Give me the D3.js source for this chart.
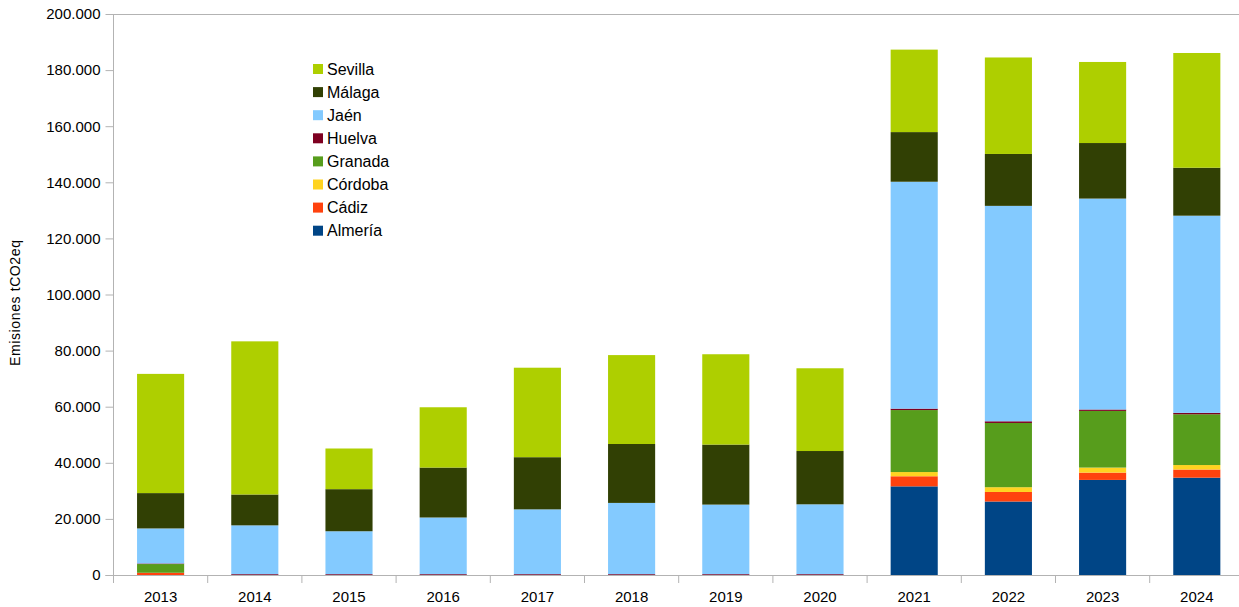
<!DOCTYPE html>
<html>
<head>
<meta charset="utf-8">
<script src="https://cdn.jsdelivr.net/npm/d3@7"></script>
<style>
  body { margin: 0; background: #fff; }
  svg { display: block; font-family: "Liberation Sans", Arial, sans-serif; }
  .axis path, .axis line { stroke: #b3b3b3; }
  .axis text { fill: #000; font-size: 15px; }
</style>
</head>
<body>
<div id="chart"></div>
<script>
// years on the x axis
var years = ['2013','2014','2015','2016','2017','2018','2019','2020','2021','2022','2023','2024'];

// stack order, bottom to top
var provinces = ['Almería','Cádiz','Córdoba','Granada','Huelva','Jaén','Málaga','Sevilla'];

// tCO2eq per province, one value per year
var almeria = [0, 0, 0, 0, 0, 0, 0, 0, 31600, 26200, 33900, 34700];
var cadiz   = [800, 0, 0, 0, 0, 0, 0, 0, 3600, 3400, 2600, 2900];
var cordoba = [0, 0, 0, 0, 0, 0, 0, 0, 1500, 1700, 1800, 1600];
var granada = [3100, 0, 0, 0, 0, 0, 0, 0, 22100, 22900, 20200, 18100];
var huelva  = [200, 300, 300, 300, 300, 300, 300, 300, 500, 600, 500, 500];
var jaen    = [12500, 17400, 15300, 20200, 23100, 25400, 24800, 24900, 80900, 76800, 75200, 70300];
var malaga  = [12600, 11000, 15000, 17800, 18600, 21000, 21400, 19000, 17700, 18500, 19800, 17100];
var sevilla = [42500, 54600, 14500, 21500, 31900, 31700, 32200, 29500, 29400, 34400, 28900, 40900];

var yTicks = [0, 20000, 40000, 60000, 80000, 100000, 120000, 140000, 160000, 180000, 200000];

var seriesValues = [almeria, cadiz, cordoba, granada, huelva, jaen, malaga, sevilla];
var colors = ['#004586','#ff420e','#ffd320','#579d1c','#7e0021','#83caff','#314004','#aecf00'];

var width = 1239, height = 607;
var plotLeft = 113.5, plotTop = 14, plotBottom = 575;
var step = 94.2;

var rows = years.map(function(y, i) {
  var r = { year: y };
  provinces.forEach(function(p, j) { r[p] = seriesValues[j][i]; });
  return r;
});

var svg = d3.select('#chart').append('svg')
    .attr('width', width)
    .attr('height', height);

var x = d3.scaleBand()
    .domain(years)
    .range([plotLeft, plotLeft + step * years.length])
    .paddingInner(0.5)
    .paddingOuter(0.25);

var y = d3.scaleLinear()
    .domain([0, 200000])
    .range([plotBottom, plotTop]);

var es = d3.formatLocale({ decimal: ',', thousands: '.', grouping: [3], currency: ['', '€'] });
var fmt = es.format(',d');

// top border line of plot area
svg.append('line')
    .attr('x1', plotLeft).attr('x2', width)
    .attr('y1', y(200000) + 0.5).attr('y2', y(200000) + 0.5)
    .attr('stroke', '#b3b3b3');

var stack = d3.stack().keys(provinces)(rows);

svg.append('g').selectAll('g')
  .data(stack)
  .join('g')
    .attr('fill', function(d, i) { return colors[i]; })
  .selectAll('rect')
  .data(function(d) { return d; })
  .join('rect')
    .attr('x', function(d) { return x(d.data.year); })
    .attr('width', x.bandwidth())
    .attr('y', function(d) { return y(d[1]); })
    .attr('height', function(d) { return y(d[0]) - y(d[1]); });

// y axis
var yAxis = svg.append('g')
    .attr('class', 'axis')
    .attr('transform', `translate(${plotLeft},0)`)
    .call(d3.axisLeft(y).tickValues(yTicks).tickFormat(fmt).tickSize(8).tickPadding(5));
yAxis.select('.domain').remove();
yAxis.append('line')
    .attr('x1', 0).attr('x2', 0)
    .attr('y1', y(200000)).attr('y2', y(0) + 8)
    .attr('stroke', '#b3b3b3');

// x axis: ticks between categories, labels centered
var xAxis = svg.append('g').attr('class', 'axis');
xAxis.append('line')
    .attr('x1', plotLeft - 8).attr('x2', width)
    .attr('y1', plotBottom + 0.5).attr('y2', plotBottom + 0.5)
    .attr('stroke', '#b3b3b3');
xAxis.selectAll('line.tick')
  .data(d3.range(1, years.length + 1))
  .join('line')
    .attr('class', 'tick')
    .attr('x1', function(i) { return plotLeft + i * step; })
    .attr('x2', function(i) { return plotLeft + i * step; })
    .attr('y1', plotBottom).attr('y2', plotBottom + 8)
    .attr('stroke', '#b3b3b3');
xAxis.selectAll('text')
  .data(years)
  .join('text')
    .attr('x', function(d) { return x(d) + x.bandwidth() / 2; })
    .attr('y', 602)
    .attr('text-anchor', 'middle')
    .text(function(d) { return d; });

// y title
svg.append('text')
    .attr('transform', 'translate(20,303)rotate(-90)')
    .attr('text-anchor', 'middle')
    .attr('textLength', 126)
    .attr('lengthAdjust', 'spacing')
    .style('font-size', '14px')
    .text('Emisiones tCO2eq');

// legend, top to bottom = reverse stack order
var legend = svg.append('g').attr('transform', 'translate(313,64)');
var items = provinces.slice().reverse();
var item = legend.selectAll('g')
  .data(items)
  .join('g')
    .attr('transform', function(d, i) { return `translate(0,${i * 23.1})`; });
item.append('rect')
    .attr('width', 10).attr('height', 10)
    .attr('fill', function(d) { return colors[provinces.indexOf(d)]; });
item.append('text')
    .attr('x', 14)
    .attr('y', 10.5)
    .style('font-size', '16px')
    .text(function(d) { return d; });
</script>
</body>
</html>
